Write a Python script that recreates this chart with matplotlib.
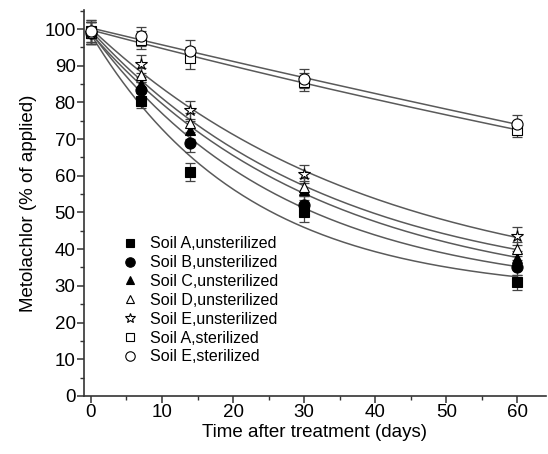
import numpy as np
import matplotlib
matplotlib.use("Agg")
import matplotlib.pyplot as plt
from matplotlib.ticker import MultipleLocator

plt.rcParams["font.family"] = ["Liberation Sans", "DejaVu Sans"]

days = [0, 7, 14, 30, 60]

# values (% of applied)
soil_a_unst = [99, 80.5, 61, 50, 31]
soil_b_unst = [99, 83.5, 69, 52, 35]
soil_c_unst = [99, 85, 72.5, 56, 37.5]
soil_d_unst = [99, 87.5, 74.5, 57, 40]
soil_e_unst = [99, 90.5, 78, 60.5, 43.5]
soil_a_ster = [99.5, 97, 92, 85.5, 72.5]
soil_e_ster = [99.5, 98, 94, 86.5, 74]

err_a_unst = [3, 2, 2.5, 2.5, 2]
err_b_unst = [3, 2, 2.5, 2.5, 2]
err_c_unst = [3, 2, 2.5, 2.5, 2]
err_d_unst = [3, 2, 2.5, 2.5, 2]
err_e_unst = [3, 2.5, 2.5, 2.5, 2.5]
err_a_ster = [3, 2.5, 3, 2.5, 2]
err_e_ster = [3, 2.5, 3, 2.5, 2.5]

labels = ["Soil A,unsterilized", "Soil B,unsterilized", "Soil C,unsterilized",
          "Soil D,unsterilized", "Soil E,unsterilized", "Soil A,sterilized",
          "Soil E,sterilized"]
series = [soil_a_unst, soil_b_unst, soil_c_unst, soil_d_unst, soil_e_unst,
          soil_a_ster, soil_e_ster]
errors = [err_a_unst, err_b_unst, err_c_unst, err_d_unst, err_e_unst,
          err_a_ster, err_e_ster]
markers = ["s", "o", "^", "^", "*", "s", "o"]
filled = [True, True, True, False, False, False, False]
sizes = [7, 8, 7.5, 7, 9, 6.5, 8]


def fit_decay(t, y):
    """ajusta y = y0 + a*exp(-k t) por busca em k"""
    t = np.asarray(t, float)
    y = np.asarray(y, float)
    best = None
    for k in np.linspace(0.002, 0.2, 2000):
        m = np.column_stack([np.ones_like(t), np.exp(-k * t)])
        coef, *_ = np.linalg.lstsq(m, y, rcond=None)
        r = np.sum((m @ coef - y) ** 2)
        if best is None or r < best[0]:
            best = (r, k, coef)
    return best[1], best[2]


fig, ax = plt.subplots(figsize=(5.48, 4.54), dpi=100)
fig.subplots_adjust(left=0.153, right=0.996, bottom=0.128, top=0.978)

tt = np.linspace(0, 60, 200)
for y, e, mk, fl, ms, lab in zip(series, errors, markers, filled, sizes, labels):
    k, c = fit_decay(days, y)
    ax.plot(tt, c[0] + c[1] * np.exp(-k * tt), color="#5a5a5a", lw=1.1, zorder=1)
    ax.errorbar(days, y, yerr=e, fmt="none", ecolor="#444444", elinewidth=0.9,
                capsize=3.5, capthick=0.9, zorder=2)
    ax.plot(days, y, ls="none", marker=mk, ms=ms,
            mfc="black" if fl else "white", mec="black", mew=0.8,
            zorder=3, label=lab)

ax.set_xlim(-1, 64)
ax.set_ylim(0, 105.2)
ax.xaxis.set_major_locator(MultipleLocator(10))
ax.xaxis.set_minor_locator(MultipleLocator(5))
ax.yaxis.set_major_locator(MultipleLocator(10))
ax.yaxis.set_minor_locator(MultipleLocator(5))
ax.spines["top"].set_visible(False)
ax.spines["right"].set_visible(False)
for s in ["left", "bottom"]:
    ax.spines[s].set_color("#333333")
    ax.spines[s].set_linewidth(1.2)
ax.tick_params(which="major", length=5, width=1.1, labelsize=13.5, colors="#333333",
               labelcolor="black", pad=1)
ax.tick_params(which="minor", length=3, width=1.0, colors="#333333")

ax.set_xlabel("Time after treatment (days)", fontsize=13.5, labelpad=2)
ax.set_ylabel("Metolachlor (% of applied)", fontsize=13.5, labelpad=5)

ax.legend(loc="upper left", bbox_to_anchor=(0.068, 0.43), frameon=False,
          fontsize=11.5, handlelength=1.0, handletextpad=0.75, labelspacing=0.24,
          borderaxespad=0, markerscale=0.85)

fig.savefig("out.png", dpi=100)
